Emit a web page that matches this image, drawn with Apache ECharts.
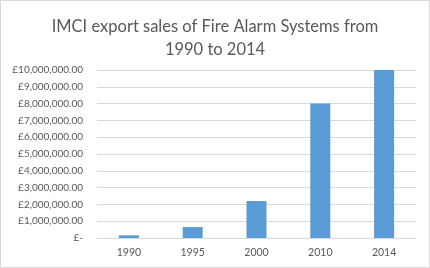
<!DOCTYPE html>
<html>
<head>
<meta charset="utf-8">
<script src="https://cdn.jsdelivr.net/npm/echarts@6/dist/echarts.min.js"></script>
<style>html,body{margin:0;padding:0;background:#fff;}#c{width:430px;height:268px;}</style>
</head>
<body>
<div id="c"></div>
<script>
const categories = ['1990', '1995', '2000', '2010', '2014'];
const sales = [160000, 650000, 2200000, 8000000, 10000000];
const yTicks = { min: 0, max: 10000000, interval: 1000000 };

function fmt(v) {
  if (v === 0) return '£-';
  const s = Math.round(v).toString().replace(/\B(?=(\d{3})+(?!\d))/g, ',');
  return '£' + s + '.00';
}

const chart = echarts.init(document.getElementById('c'));
chart.setOption({
  animation: false,
  backgroundColor: '#ffffff',
  graphic: [{
    type: 'rect', silent: true, z: 100,
    shape: { x: 0.5, y: 0.5, width: 429, height: 267 },
    style: { fill: 'none', stroke: '#d9d9d9', lineWidth: 1 }
  }],
  title: {
    text: 'IMCI export sales of Fire Alarm Systems from\n1990 to 2014',
    left: 'center', top: 10,
    textStyle: { fontFamily: 'Lato', fontSize: 16.5, fontWeight: 'normal', color: '#595959', lineHeight: 23, align: 'center' }
  },
  grid: { left: 97, right: 14, top: 70, bottom: 30 },
  xAxis: {
    type: 'category', data: categories,
    axisLine: { lineStyle: { color: '#d9d9d9' } },
    axisTick: { show: false },
    axisLabel: { color: '#595959', fontFamily: 'Lato', fontSize: 10.5, margin: 9 }
  },
  yAxis: {
    type: 'value', min: yTicks.min, max: yTicks.max, interval: yTicks.interval,
    axisLine: { show: false }, axisTick: { show: false },
    splitLine: { lineStyle: { color: '#d9d9d9' } },
    axisLabel: { color: '#595959', fontFamily: 'Lato', fontSize: 10, margin: 14, formatter: fmt }
  },
  series: [{
    type: 'bar', data: sales, barWidth: 20,
    itemStyle: { color: '#5b9bd5' }
  }]
});
</script>
</body>
</html>
